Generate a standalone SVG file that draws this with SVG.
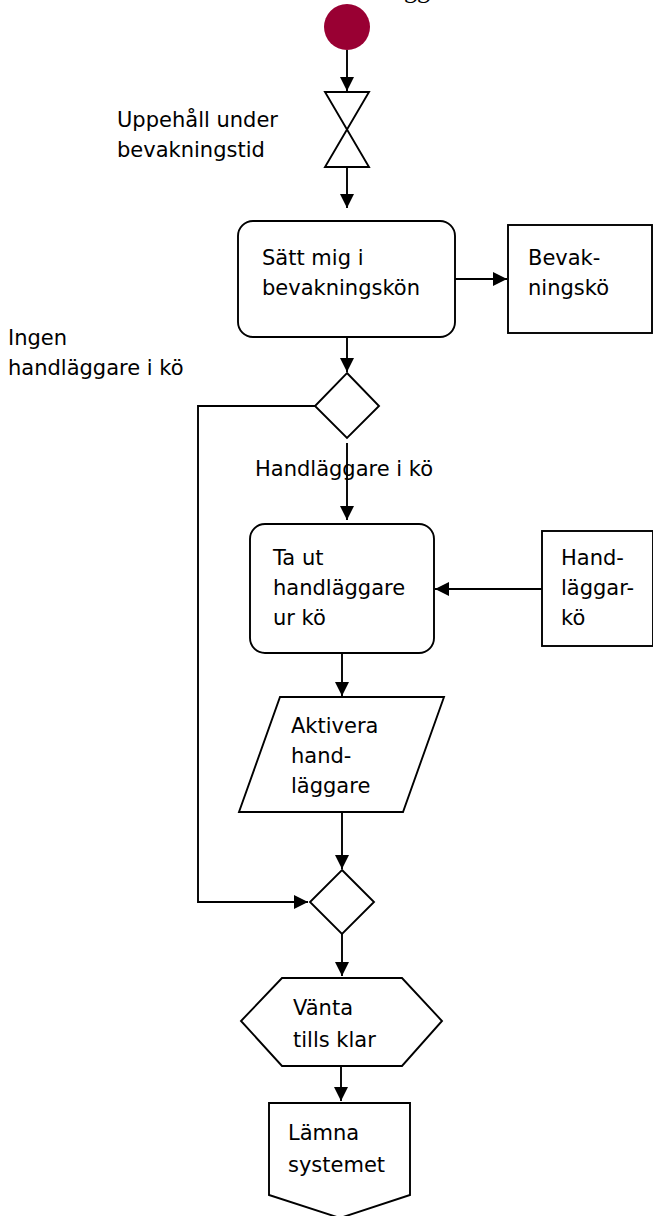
<svg xmlns="http://www.w3.org/2000/svg" width="653" height="1216" viewBox="0 0 653 1216">
<defs>
<style>
.s{fill:#fff;stroke:#000;stroke-width:1.9}
.c{fill:none;stroke:#000;stroke-width:1.9}
.t{font-family:"DejaVu Sans",Verdana,sans-serif;font-size:21px;fill:#000}
</style>
<marker id="ah" markerUnits="userSpaceOnUse" markerWidth="16" markerHeight="16" viewBox="0 0 16 16" refX="15" refY="8" orient="auto">
<path d="M1,1 L15,8 L1,15 Z" fill="#000"/>
</marker>
</defs>
<text x="375" y="-2" style="font-family:'Liberation Serif',serif;font-size:26px">Logga in</text>
<g id="connectors">
<line class="c" x1="347" y1="50" x2="347" y2="91" marker-end="url(#ah)"/>
<line class="c" x1="347" y1="167" x2="347" y2="208" marker-end="url(#ah)"/>
<line class="c" x1="455" y1="279" x2="507" y2="279" marker-end="url(#ah)"/>
<line class="c" x1="347" y1="337" x2="347" y2="372" marker-end="url(#ah)"/>
<line class="c" x1="347" y1="443" x2="347" y2="520" marker-end="url(#ah)"/>
<polyline class="c" points="315,406 198,406 198,902 308,902" marker-end="url(#ah)"/>
<line class="c" x1="542" y1="589" x2="435" y2="589" marker-end="url(#ah)"/>
<line class="c" x1="342" y1="653" x2="342" y2="696" marker-end="url(#ah)"/>
<line class="c" x1="342" y1="812" x2="342" y2="869" marker-end="url(#ah)"/>
<line class="c" x1="342" y1="934" x2="342" y2="976" marker-end="url(#ah)"/>
<line class="c" x1="341" y1="1066" x2="341" y2="1101" marker-end="url(#ah)"/>
<text class="t" x="255" y="476">Handläggare i kö</text>
</g>
<g id="start"><circle cx="347" cy="27" r="23" fill="#990033"/></g>
<g id="wait-timer">
<path class="s" d="M325,92 L369,92 L325,167 L369,167 Z"/>
<text class="t" x="117" y="127">Uppehåll under</text>
<text class="t" x="117" y="157">bevakningstid</text>
</g>
<g id="queue-me">
<rect class="s" x="238" y="221" width="217" height="116" rx="15"/>
<text class="t" x="262" y="265">Sätt mig i</text>
<text class="t" x="262" y="295">bevakningskön</text>
</g>
<g id="watch-queue">
<rect class="s" x="508" y="225" width="144" height="108"/>
<text class="t" x="528" y="265">Bevak-</text>
<text class="t" x="528" y="295">ningskö</text>
</g>
<g id="decision1">
<path class="s" d="M347,373 L379,406 L347,438 L315,406 Z"/>
<text class="t" x="8" y="345">Ingen</text>
<text class="t" x="8" y="375">handläggare i kö</text>
</g>
<g id="take-out">
<rect class="s" x="250" y="524" width="184" height="129" rx="15"/>
<text class="t" x="273" y="565">Ta ut</text>
<text class="t" x="273" y="595">handläggare</text>
<text class="t" x="273" y="625">ur kö</text>
</g>
<g id="handler-queue">
<rect class="s" x="542" y="531" width="111" height="115"/>
<text class="t" x="561" y="565">Hand-</text>
<text class="t" x="561" y="595">läggar-</text>
<text class="t" x="561" y="625">kö</text>
</g>
<g id="activate">
<path class="s" d="M280,697 L444,697 L403,812 L239,812 Z"/>
<text class="t" x="291" y="733">Aktivera</text>
<text class="t" x="291" y="763">hand-</text>
<text class="t" x="291" y="793">läggare</text>
</g>
<g id="decision2">
<path class="s" d="M342,870 L374,902 L342,934 L310,902 Z"/>
</g>
<g id="wait">
<path class="s" d="M282,978 L402,978 L442,1021 L402,1066 L282,1066 L241,1021 Z"/>
<text class="t" x="293" y="1015">Vänta</text>
<text class="t" x="293" y="1047">tills klar</text>
</g>
<g id="leave">
<path class="s" d="M269,1103 L410,1103 L410,1195 L340,1218 L269,1195 Z"/>
<text class="t" x="288" y="1140">Lämna</text>
<text class="t" x="288" y="1172">systemet</text>
</g>
</svg>
